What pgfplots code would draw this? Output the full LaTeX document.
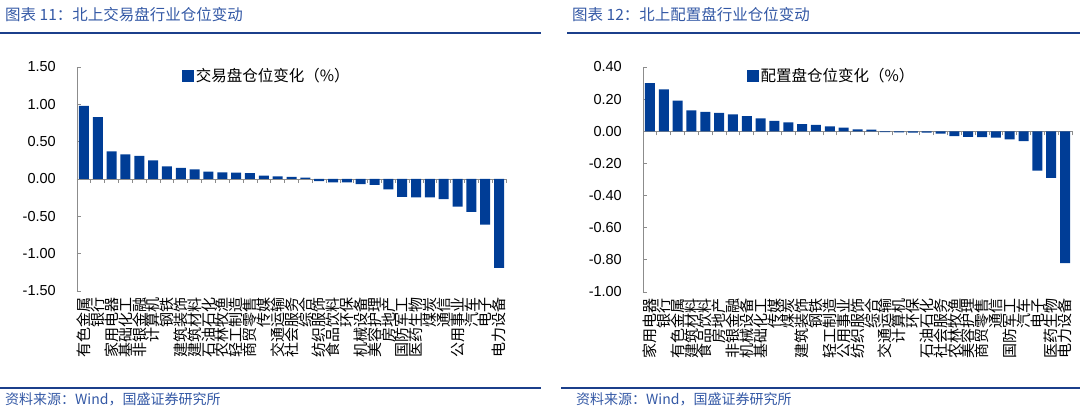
\documentclass[border=0pt]{standalone}
\usepackage{fontspec}
\setmainfont{Liberation Sans}
\newfontfamily\cjk{Noto Sans CJK SC}
\usepackage{pgfplots}
\pgfplotsset{compat=1.18}

\definecolor{barblue}{HTML}{003D96}
\definecolor{axgray}{HTML}{8C8C8C}
\definecolor{titleblue}{HTML}{3358A5}
\definecolor{ruleblue}{HTML}{1B3F8B}

% trading (left) and allocation (right) position changes, %
\pgfplotstableread{
x y
0 0.98
1 0.83
2 0.37
3 0.33
4 0.31
5 0.25
6 0.17
7 0.15
8 0.13
9 0.10
10 0.09
11 0.085
12 0.08
13 0.045
14 0.036
15 0.03
16 0.02
17 -0.03
18 -0.045
19 -0.045
20 -0.07
21 -0.08
22 -0.14
23 -0.24
24 -0.245
25 -0.245
26 -0.27
27 -0.37
28 -0.44
29 -0.61
30 -1.19
}\trading
\pgfplotstableread{
x y
0 0.30
1 0.26
2 0.19
3 0.13
4 0.12
5 0.115
6 0.105
7 0.095
8 0.08
9 0.065
10 0.055
11 0.045
12 0.04
13 0.031
14 0.023
15 0.012
16 0.01
17 -0.006
18 -0.007
19 -0.008
20 -0.009
21 -0.015
22 -0.03
23 -0.035
24 -0.037
25 -0.04
26 -0.05
27 -0.062
28 -0.245
29 -0.29
30 -0.82
}\allocation

\pgfplotsset{
  panel/.style={
    scale only axis, width=429pt, anchor=south west,
    xmin=-0.5, xmax=30.5,
  },
  barsaxis/.style={
    panel,
    axis y line=left, axis x line=middle,
    axis line style={-, draw=axgray, line width=0.8pt},
    hide obscured x ticks=false, hide obscured y ticks=false,
    xtick={-0.5,0.5,...,30.5}, xticklabels={},
    tick align=inside, major tick length=4pt,
    tick style={draw=axgray, line width=0.8pt},
    yticklabel style={font=\fontsize{14.5}{16}\selectfont, inner sep=0pt, anchor=east},
    yticklabel shift=21pt,
    /pgf/number format/.cd, fixed, fixed zerofill, precision=2, assume math mode=true,
    /pgfplots/.cd,
    ybar, bar width=10pt,
    legend style={draw=none, fill=none, inner sep=0pt, anchor=west,
      font=\cjk\fontsize{15.5}{16}\selectfont},
    legend image code/.code={\fill[barblue] (0pt,-6pt) rectangle (11.5pt,6pt);},
  },
  labelsaxis/.style={
    panel, hide y axis, axis x line=bottom, x axis line style={draw=none},
    ymin=0, ymax=1, xtick={0,...,30}, major tick length=0pt,
    xticklabel style={rotate=90, anchor=east, inner sep=0pt,
      font=\cjk\fontsize{15}{15}\selectfont},
    xticklabel shift=6pt,
  },
}

\begin{document}
\begin{tikzpicture}
\path[use as bounding box] (0,0) rectangle (1080pt,409pt);

% headers and footers
\node[anchor=west, text=titleblue, inner sep=0pt, font=\cjk\fontsize{15.5}{16}\selectfont] at (5pt,394pt) {图表 11：北上交易盘行业仓位变动};
\node[anchor=west, text=titleblue, inner sep=0pt, font=\cjk\fontsize{15.5}{16}\selectfont] at (572pt,394pt) {图表 12：北上配置盘行业仓位变动};
\draw[ruleblue, line width=2.6pt] (0pt,376pt) -- (541pt,376pt);
\draw[ruleblue, line width=2.6pt] (567pt,376pt) -- (1080pt,376pt);
\draw[ruleblue, line width=2.2pt] (0pt,21pt) -- (541pt,21pt);
\draw[ruleblue, line width=2.2pt] (561pt,21pt) -- (1080pt,21pt);
\node[anchor=west, text=titleblue, inner sep=0pt, font=\cjk\fontsize{14}{14}\selectfont] at (5pt,10pt) {资料来源：Wind，国盛证券研究所};
\node[anchor=west, text=titleblue, inner sep=0pt, font=\cjk\fontsize{14}{14}\selectfont] at (576pt,10pt) {资料来源：Wind，国盛证券研究所};

% left panel
\begin{axis}[labelsaxis, at={(77pt,118pt)}, height=224pt,
  xticklabels={有色金属,银行,家用电器,基础化工,非银金融,计算机,钢铁,建筑装饰,建筑材料,石油石化,农林牧渔,轻工制造,商贸零售,传媒,交通运输,社会服务,综合,纺织服饰,食品饮料,环保,机械设备,美容护理,房地产,国防军工,医药生物,煤炭,通信,公用事业,汽车,电子,电力设备}]
\end{axis}
\begin{axis}[barsaxis, at={(77pt,118pt)}, height=224pt,
  ymin=-1.5, ymax=1.5, ytick={-1.5,-1,-0.5,0,0.5,1,1.5},
  legend style={at={(0.245,0.96)}}]
\addplot[fill=barblue, draw=none] table[x=x, y=y] {\trading};
\addlegendentry{交易盘仓位变化（\%）}
\end{axis}

% right panel
\begin{axis}[labelsaxis, at={(643pt,117pt)}, height=225pt,
  xticklabels={家用电器,银行,有色金属,建筑材料,食品饮料,房地产,非银金融,机械设备,基础化工,传媒,煤炭,建筑装饰,钢铁,轻工制造,公用事业,纺织服饰,综合,交通运输,计算机,环保,石油石化,社会服务,农林牧渔,美容护理,商贸零售,通信,国防军工,汽车,电子,医药生物,电力设备}]
\end{axis}
\begin{axis}[barsaxis, at={(643pt,117pt)}, height=225pt,
  ymin=-1, ymax=0.4, ytick={-1,-0.8,-0.6,-0.4,-0.2,0,0.2,0.4},
  legend style={at={(0.242,0.96)}}]
\addplot[fill=barblue, draw=none] table[x=x, y=y] {\allocation};
\addlegendentry{配置盘仓位变化（\%）}
\end{axis}
\end{tikzpicture}
\end{document}
